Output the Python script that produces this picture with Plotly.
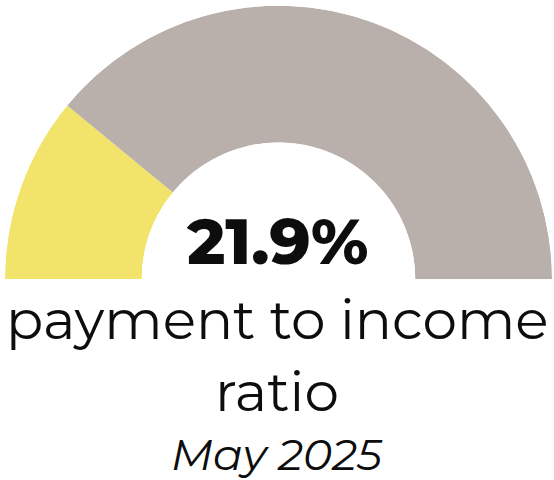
import plotly.graph_objects as go

# Gauge data
labels = ["payment to income", "remainder"]
values = [21.9, 78.1]
colors = ["#F2E36A", "#B9AFAB"]

headline = "21.9%"
caption_lines = ["payment to income", "ratio"]
period = "May 2025"

W, H = 554, 480
FONT = "Montserrat, 'Open Sans', sans-serif"

# Convert shares into angular spans on a half circle (180 degrees),
# starting at the left end (180 deg) and sweeping clockwise.
total = sum(values)
spans = [v / total * 180 for v in values]
thetas, widths = [], []
start = 180.0
for s in spans:
    thetas.append(start - s / 2)
    widths.append(s)
    start -= s

fig = go.Figure()
fig.add_trace(go.Barpolar(
    r=[1, 1],
    theta=thetas,
    width=widths,
    base=0,
    marker=dict(color=colors, line=dict(width=0)),
    text=labels,
    hoverinfo="text",
    showlegend=False,
))

fig.update_layout(
    width=W, height=H,
    margin=dict(l=0, r=0, t=0, b=0),
    paper_bgcolor="white",
    plot_bgcolor="white",
    polar=dict(
        domain=dict(x=[5 / W, 552 / W], y=[1 - 280 / H, 1 - 5 / H]),
        sector=[0, 180],
        hole=0.5,
        bgcolor="white",
        radialaxis=dict(visible=False, range=[0, 1]),
        angularaxis=dict(visible=False, showgrid=False, showline=False,
                         showticklabels=False, ticks=""),
        barmode="overlay",
    ),
)

def add_text(text, y_px, size, weight="normal", style="normal"):
    fig.add_annotation(
        x=0.5, y=1 - y_px / H, xref="paper", yref="paper",
        xanchor="center", yanchor="middle",
        text=text,
        showarrow=False,
        font=dict(family=FONT, size=size, color="#0d0d0d",
                  weight=weight, style=style),
    )

add_text(headline, 241, 64, weight=800)
add_text(caption_lines[0], 319, 55)
add_text(caption_lines[1], 391, 55)
add_text(period, 454, 44, style="italic")

fig.write_html("out.html", config={"displayModeBar": False})
